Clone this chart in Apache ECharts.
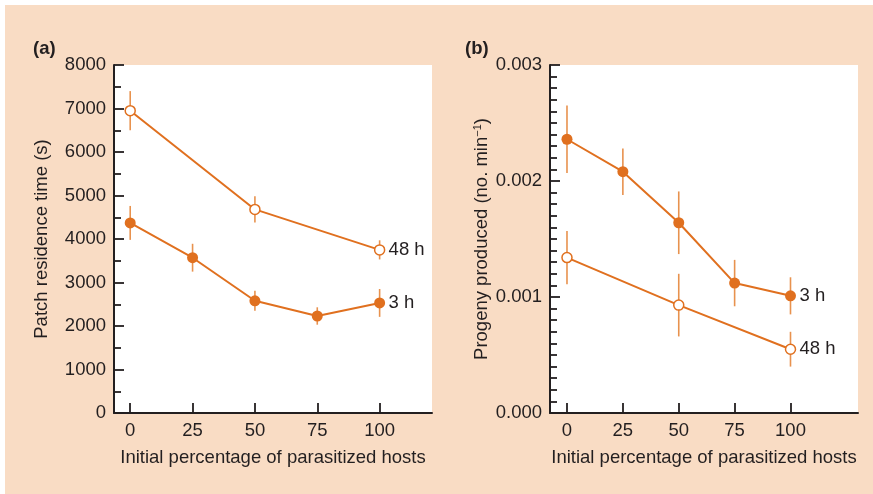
<!DOCTYPE html>
<html>
<head>
<meta charset="utf-8">
<script src="https://cdn.jsdelivr.net/npm/echarts@6/dist/echarts.min.js"></script>
<style>
html,body{margin:0;padding:0;background:#fff;width:873px;height:494px;overflow:hidden;}
#c{position:absolute;left:5px;top:5px;width:868px;height:489px;}
</style>
</head>
<body>
<div id="c"></div>
<script>
// ---- data ----
const xTicks = [0, 25, 50, 75, 100];

// panel (a): patch residence time (s)
const aX3 = [0, 25, 50, 75, 100];
const a3 = [4370, 3570, 2580, 2230, 2530];
const a3Err = [390, 320, 230, 200, 320];
const aX48 = [0, 50, 100];
const a48 = [6950, 4680, 3750];
const a48Err = [450, 300, 220];

// panel (b): progeny produced (no. min^-1)
const bX3 = [0, 25, 50, 75, 100];
const b3 = [0.00236, 0.00208, 0.00164, 0.00112, 0.00101];
const b3Err = [0.00029, 0.00020, 0.00027, 0.00020, 0.00016];
const bX48 = [0, 50, 100];
const b48 = [0.00134, 0.00093, 0.00055];
const b48Err = [0.00023, 0.00027, 0.00015];

const labels3 = '3 h';
const labels48 = '48 h';

// ---- styles ----
const ORANGE = '#E0701F';
const ERR = '#E8924E';
const INK = '#231F20';
const FONT = 'Liberation Sans, Arial, sans-serif';
const FS = 18.5;

function pairs(xs, ys) { return xs.map((x, i) => [x, ys[i]]); }
function errData(xs, ys, es) { return xs.map((x, i) => [x, ys[i] - es[i], ys[i] + es[i]]); }

function errSeries(idx, data) {
  return {
    type: 'custom', xAxisIndex: idx, yAxisIndex: idx, z: 1, silent: true,
    data: data,
    renderItem: function (params, api) {
      const p1 = api.coord([api.value(0), api.value(1)]);
      const p2 = api.coord([api.value(0), api.value(2)]);
      return { type: 'line', shape: { x1: p1[0], y1: p1[1], x2: p2[0], y2: p2[1] },
               style: { stroke: ERR, lineWidth: 1.6 } };
    }
  };
}
function lineSeries(idx, data, open, label) {
  return {
    type: 'line', xAxisIndex: idx, yAxisIndex: idx, z: 3, data: data,
    symbol: 'circle', symbolSize: open ? 10 : 11, showAllSymbol: true,
    lineStyle: { color: ORANGE, width: 2 },
    itemStyle: open ? { color: '#fff', borderColor: ORANGE, borderWidth: 1.5 } : { color: ORANGE, borderWidth: 0 },
    emphasis: { disabled: true },
    endLabel: { show: true, formatter: label, color: INK, fontSize: FS, fontFamily: FONT, distance: 9 },
    animation: false
  };
}
function xAxis(idx, min, max) {
  return {
    type: 'value', gridIndex: idx, min: min, max: max,
    name: 'Initial percentage of parasitized hosts', nameLocation: 'middle', nameGap: 35,
    nameTextStyle: { color: INK, fontSize: FS, fontFamily: FONT },
    axisLine: { show: true, onZero: false, lineStyle: { color: INK, width: 2 } },
    axisTick: { show: true, inside: true, length: 10, lineStyle: { color: INK, width: 1.8 }, customValues: xTicks },
    axisLabel: { color: INK, fontSize: FS, fontFamily: FONT, margin: 8, customValues: xTicks },
    splitLine: { show: false }
  };
}
function yAxis(idx, max, interval, minorSplit, name, fmt, gap) {
  return {
    type: 'value', gridIndex: idx, min: 0, max: max, interval: interval,
    name: name, nameLocation: 'middle', nameGap: gap,
    nameTextStyle: { color: INK, fontSize: FS, fontFamily: FONT,
      rich: { sup: { fontSize: 11, verticalAlign: 'top', color: INK, fontFamily: FONT },
              n: { fontSize: FS, color: INK, fontFamily: FONT } } },
    axisLine: { show: true, onZero: false, lineStyle: { color: INK, width: 2 } },
    axisTick: { show: true, inside: true, length: 10, lineStyle: { color: INK, width: 1.8 } },
    minorTick: { show: true, splitNumber: minorSplit, length: 7, lineStyle: { color: INK, width: 1.8 } },
    axisLabel: { color: INK, fontSize: FS, fontFamily: FONT, margin: 8, formatter: fmt },
    splitLine: { show: false }, minorSplitLine: { show: false }
  };
}

const chart = echarts.init(document.getElementById('c'), null, { renderer: 'canvas' });
chart.setOption({
  backgroundColor: '#F9DCC4',
  animation: false,
  textStyle: { fontFamily: FONT },
  title: [
    { text: '(a)', left: 28, top: 34, padding: 0, textStyle: { color: INK, fontSize: FS, fontWeight: 'bold', fontFamily: FONT } },
    { text: '(b)', left: 460, top: 34, padding: 0, textStyle: { color: INK, fontSize: FS, fontWeight: 'bold', fontFamily: FONT } }
  ],
  grid: [
    { left: 109, top: 60, width: 318, height: 348, show: true, backgroundColor: '#fff', borderWidth: 0 },
    { left: 545, top: 60, width: 308, height: 348, show: true, backgroundColor: '#fff', borderWidth: 0 }
  ],
  xAxis: [ xAxis(0, -6.5, 121), xAxis(1, -7.6, 130.2) ],
  yAxis: [
    yAxis(0, 8000, 1000, 2, 'Patch residence time (s)', v => String(v), 63),
    yAxis(1, 0.003, 0.001, 10, '{n|Progeny produced (no. min}{sup|−1}{n|)}', v => v.toFixed(3), 49)
  ],
  series: [
    errSeries(0, errData(aX48, a48, a48Err)),
    errSeries(0, errData(aX3, a3, a3Err)),
    lineSeries(0, pairs(aX48, a48), true, labels48),
    lineSeries(0, pairs(aX3, a3), false, labels3),
    errSeries(1, errData(bX3, b3, b3Err)),
    errSeries(1, errData(bX48, b48, b48Err)),
    lineSeries(1, pairs(bX3, b3), false, labels3),
    lineSeries(1, pairs(bX48, b48), true, labels48)
  ]
});
</script>
</body>
</html>
